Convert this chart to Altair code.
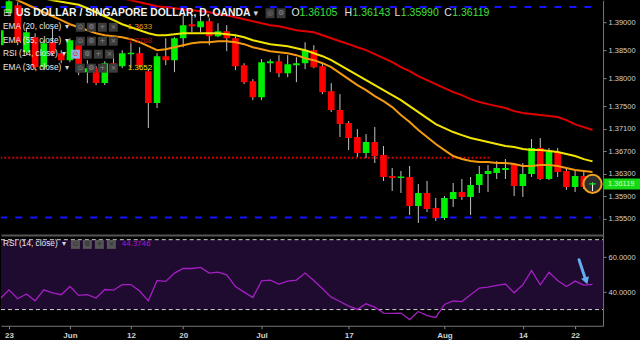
import altair as alt
import pandas as pd

# ---- data: daily USD/SGD candles, trading-day index 0..68 (22 May 2017 .. 24 Aug 2017) ----
opens = [1.38591, 1.39160, 1.39302, 1.38466, 1.38733, 1.38199, 1.38644, 1.38448, 1.38324, 1.38680,
         1.38110, 1.38181, 1.37915, 1.38270, 1.38217, 1.38431, 1.38448, 1.38128, 1.37559, 1.38395,
         1.38324, 1.38715, 1.38964, 1.38911, 1.39018, 1.38751, 1.38840, 1.38715, 1.38235, 1.37950,
         1.37665, 1.38270, 1.38306, 1.38093, 1.38235, 1.38270, 1.38502, 1.38217, 1.37772, 1.37434,
         1.37203, 1.36954, 1.36669, 1.36865, 1.36633, 1.36260, 1.36224, 1.36242, 1.35726, 1.35957,
         1.35690, 1.35512, 1.35851, 1.35975, 1.35886, 1.36100, 1.36295, 1.36313, 1.36367, 1.36473,
         1.36082, 1.36295, 1.36758, 1.36206, 1.36687, 1.36349, 1.36064, 1.36260, 1.36105]
highs = [1.38893, 1.39445, 1.39356, 1.38893, 1.38804, 1.38680, 1.38893, 1.38502, 1.38715, 1.38715,
         1.38324, 1.38217, 1.38306, 1.38448, 1.38502, 1.38626, 1.38555, 1.38164, 1.38448, 1.38715,
         1.38733, 1.39125, 1.39125, 1.39160, 1.39071, 1.38982, 1.38947, 1.38751, 1.38270, 1.37986,
         1.38342, 1.38342, 1.38413, 1.38413, 1.38377, 1.38644, 1.38591, 1.38253, 1.37915, 1.37719,
         1.37238, 1.37096, 1.37007, 1.37132, 1.36794, 1.36402, 1.36349, 1.36438, 1.36117, 1.36171,
         1.35868, 1.35904, 1.36135, 1.36206, 1.36242, 1.36438, 1.36456, 1.36527, 1.36562, 1.36491,
         1.36491, 1.36918, 1.36936, 1.36758, 1.36758, 1.36420, 1.36367, 1.36367, 1.36143]
lows = [1.38555, 1.39107, 1.38591, 1.38413, 1.38146, 1.38146, 1.38413, 1.38270, 1.38288, 1.38057,
        1.37915, 1.37879, 1.37879, 1.38146, 1.38181, 1.38181, 1.38199, 1.37114, 1.37470, 1.38235,
        1.38110, 1.38555, 1.38822, 1.38822, 1.38591, 1.38733, 1.38484, 1.38146, 1.37897, 1.37612,
        1.37612, 1.38110, 1.38021, 1.38021, 1.37932, 1.38164, 1.38181, 1.37719, 1.37399, 1.36954,
        1.36722, 1.36598, 1.36580, 1.36491, 1.36171, 1.35993, 1.35957, 1.35566, 1.35423, 1.35619,
        1.35459, 1.35477, 1.35708, 1.35833, 1.35566, 1.35957, 1.35975, 1.36206, 1.36206, 1.35904,
        1.35886, 1.36242, 1.36189, 1.36189, 1.36242, 1.36011, 1.35975, 1.36028, 1.35990]
closes = [1.38858, 1.39374, 1.38644, 1.38822, 1.38199, 1.38626, 1.38448, 1.38324, 1.38680, 1.38110,
          1.38181, 1.37915, 1.38270, 1.38217, 1.38448, 1.38457, 1.38235, 1.37559, 1.38395, 1.38324,
          1.38715, 1.38947, 1.38929, 1.39018, 1.38751, 1.38840, 1.38715, 1.38217, 1.37932, 1.37665,
          1.38288, 1.38306, 1.38093, 1.38253, 1.38270, 1.38502, 1.38199, 1.37754, 1.37434, 1.37185,
          1.36936, 1.36669, 1.36865, 1.36616, 1.36242, 1.36224, 1.36251, 1.35726, 1.35957, 1.35673,
          1.35512, 1.35868, 1.35975, 1.35886, 1.36100, 1.36295, 1.36349, 1.36402, 1.36402, 1.36082,
          1.36295, 1.36758, 1.36206, 1.36687, 1.36331, 1.36064, 1.36260, 1.36064, 1.36119]
ema20 = [1.39534, 1.39463, 1.39391, 1.39320, 1.39249, 1.39178, 1.39107, 1.39036, 1.38964, 1.38911,
         1.38858, 1.38804, 1.38769, 1.38751, 1.38733, 1.38698, 1.38644, 1.38573, 1.38502, 1.38520,
         1.38555, 1.38591, 1.38626, 1.38644, 1.38644, 1.38662, 1.38662, 1.38644, 1.38609, 1.38555,
         1.38520, 1.38484, 1.38466, 1.38448, 1.38413, 1.38359, 1.38324, 1.38270, 1.38199, 1.38093,
         1.37986, 1.37879, 1.37790, 1.37683, 1.37594, 1.37488, 1.37345, 1.37221, 1.37078, 1.36954,
         1.36829, 1.36722, 1.36616, 1.36562, 1.36527, 1.36509, 1.36509, 1.36491, 1.36491, 1.36473,
         1.36438, 1.36438, 1.36456, 1.36456, 1.36438, 1.36402, 1.36367, 1.36349, 1.36331]
ema30 = [1.39747, 1.39676, 1.39605, 1.39534, 1.39480, 1.39427, 1.39391, 1.39365, 1.39338, 1.39311,
         1.39249, 1.39178, 1.39107, 1.39036, 1.38964, 1.38911, 1.38858, 1.38804, 1.38769, 1.38769,
         1.38786, 1.38804, 1.38804, 1.38804, 1.38804, 1.38804, 1.38786, 1.38769, 1.38733, 1.38680,
         1.38644, 1.38609, 1.38591, 1.38573, 1.38537, 1.38502, 1.38448, 1.38395, 1.38324, 1.38235,
         1.38146, 1.38057, 1.37968, 1.37879, 1.37790, 1.37701, 1.37612, 1.37505, 1.37399, 1.37292,
         1.37185, 1.37114, 1.37043, 1.36989, 1.36936, 1.36900, 1.36865, 1.36829, 1.36794, 1.36776,
         1.36740, 1.36722, 1.36722, 1.36705, 1.36687, 1.36651, 1.36616, 1.36560, 1.36520]
ema55 = [1.40103, 1.40050, 1.39996, 1.39943, 1.39890, 1.39836, 1.39783, 1.39730, 1.39676, 1.39623,
         1.39569, 1.39534, 1.39498, 1.39463, 1.39427, 1.39391, 1.39356, 1.39320, 1.39285, 1.39267,
         1.39249, 1.39231, 1.39214, 1.39196, 1.39178, 1.39142, 1.39125, 1.39089, 1.39053, 1.39018,
         1.38982, 1.38947, 1.38929, 1.38893, 1.38858, 1.38840, 1.38822, 1.38769, 1.38715, 1.38662,
         1.38609, 1.38555, 1.38502, 1.38431, 1.38359, 1.38288, 1.38199, 1.38128, 1.38039, 1.37968,
         1.37897, 1.37826, 1.37754, 1.37701, 1.37630, 1.37577, 1.37541, 1.37505, 1.37470, 1.37416,
         1.37381, 1.37363, 1.37345, 1.37327, 1.37310, 1.37256, 1.37180, 1.37130, 1.37080]
rsi14 = [36.2, 41.3, 36.2, 38.9, 35.0, 41.3, 39.6, 38.5, 43.2, 38.1,
         38.6, 36.6, 41.5, 41.1, 44.3, 44.3, 40.6, 35.0, 46.6, 46.1,
         50.9, 53.5, 53.5, 54.1, 50.9, 51.4, 49.9, 43.2, 40.0, 36.9,
         46.5, 46.9, 44.6, 46.3, 46.9, 50.9, 46.6, 41.9, 37.1, 34.6,
         32.0, 30.1, 33.3, 31.4, 28.0, 27.8, 28.0, 24.3, 28.9, 26.5,
         25.5, 32.9, 34.9, 34.6, 38.5, 42.3, 42.9, 43.8, 44.6, 39.6,
         44.2, 52.4, 44.2, 51.4, 46.6, 43.2, 46.3, 44.0, 44.37]

date_tick_index = [1, 8, 15, 21, 30, 40, 51, 60, 66]
date_tick_label = ["23", "Jun", "12", "20", "Jul", "17", "Aug", "14", "22"]
price_ticks = [1.355, 1.359, 1.363, 1.367, 1.371, 1.375, 1.380, 1.385, 1.390]
rsi_ticks = [40, 60]
rsi_levels = [30, 70]
blue_levels = [1.39272, 1.35520]
blue_level_end = [68.2, 68.9]
red_level = [1.36585]
red_level_end = [56.4]
arrow_x = [66.45, 67.15]
arrow_y = [58.5, 48.0]

# ---- frames ----
n = len(closes)
candles = pd.DataFrame({"i": list(range(n)), "open": opens, "high": highs, "low": lows, "close": closes})
emas = pd.DataFrame({"i": list(range(n)), "ema20": ema20, "ema30": ema30, "ema55": ema55})
rsi_df = pd.DataFrame({"i": list(range(n)), "rsi": rsi14})
blue_df = pd.DataFrame({"lvl": blue_levels, "start": [0.0, 0.0], "end": blue_level_end})
red_df = pd.DataFrame({"lvl": red_level, "start": [0.0], "end": red_level_end})
last_df = candles.tail(1)
lev_df = pd.DataFrame({"lvl": rsi_levels})
band_df = pd.DataFrame({"lo": [min(rsi_levels)], "hi": [max(rsi_levels)]})
arrow_df = pd.DataFrame({"x": [arrow_x[0]], "x2": [arrow_x[1]], "y": [arrow_y[0]], "y2": [arrow_y[1]]})
arrow_tip = pd.DataFrame({"x": [arrow_x[1] + 0.12], "y": [arrow_y[1] - 1.6]})
one = pd.DataFrame({"k": [0]})

BG = "#000000"
UP = "#00ee00"
DOWN = "#ff0000"
WICK = "#c4c4c4"
FONT = "Liberation Sans"
W = 603
H_TOP = 235
H_RSI = 91

xscale = alt.Scale(domain=[0.083, 69.21], nice=False, zero=False)
yscale = alt.Scale(domain=[1.35210, 1.393915], nice=False, zero=False)
rscale = alt.Scale(domain=[20.74, 72.74], nice=False, zero=False)

top_xaxis = alt.Axis(labels=False, ticks=False, domain=True, domainColor="#555555", domainWidth=2,
                     grid=False, title=None)
yaxis = alt.Axis(orient="right", values=price_ticks, format=".5f", labelColor="#d0d0d0", labelFont=FONT,
                 labelFontSize=7.5, tickColor="#888888", tickSize=3, domainColor="#777777",
                 labelPadding=2, grid=False, title=None, labelOverlap=False)

lab_expr = "''"
for v, l in zip(reversed(date_tick_index), reversed(date_tick_label)):
    lab_expr = f"datum.value == {v} ? '{l}' : ({lab_expr})"
bot_xaxis = alt.Axis(values=date_tick_index, labelExpr=lab_expr, labelColor="#d0d0d0", labelFont=FONT,
                     labelFontSize=8, labelFontWeight="bold", tickColor="#888888", tickSize=3,
                     domainColor="#777777", labelPadding=3, grid=False, title=None,
                     labelFlush=False, labelOverlap=False)
raxis = alt.Axis(orient="right", values=rsi_ticks, format=".4f", labelColor="#d0d0d0", labelFont=FONT,
                 labelFontSize=7.5, tickColor="#888888", tickSize=3, domainColor="#777777",
                 labelPadding=2, grid=False, title=None, labelOverlap=False)


def X(f):
    return alt.X(f, type="quantitative", scale=xscale, axis=top_xaxis)


def Y(f):
    return alt.Y(f, type="quantitative", scale=yscale, axis=yaxis)


def label(s, x, y, color, size, weight="normal", font=FONT, align="left"):
    return alt.Chart(one).mark_text(text=s, align=align, baseline="middle", font=font, fontSize=size,
                                    fontWeight=weight, color=color).encode(x=alt.value(x), y=alt.value(y))


def box(x, y, w, h, fill):
    return alt.Chart(one).mark_rect(color=fill).encode(x=alt.value(x), x2=alt.value(x + w),
                                                       y=alt.value(y), y2=alt.value(y + h))


# ---- main price pane ----
blue = alt.Chart(blue_df).mark_rule(color="#1414ff", strokeWidth=2, strokeDash=[7, 8], clip=True).encode(
    x=X("start"), x2="end", y=Y("lvl"))
reddot = alt.Chart(red_df).mark_rule(color="#d00000", strokeWidth=2, strokeDash=[2, 2], clip=True).encode(
    x=X("start"), x2="end", y=Y("lvl"))

wicks = alt.Chart(candles).mark_rule(color=WICK, strokeWidth=1, clip=True).encode(
    x=X("i"), y=Y("low"), y2="high")
bodies = alt.Chart(candles).transform_calculate(
    xa="datum.i - 0.38", xb="datum.i + 0.38"
).mark_rect(clip=True).encode(
    x=X("xa"), x2="xb", y=Y("open"), y2="close",
    color=alt.condition("datum.close >= datum.open", alt.value(UP), alt.value(DOWN)))

l55 = alt.Chart(emas).mark_line(color="#e00000", strokeWidth=2, clip=True).encode(x=X("i"), y=Y("ema55"))
l30 = alt.Chart(emas).mark_line(color="#f2e600", strokeWidth=2, clip=True).encode(x=X("i"), y=Y("ema30"))
l20 = alt.Chart(emas).mark_line(color="#f39a10", strokeWidth=2, clip=True).encode(x=X("i"), y=Y("ema20"))

circle = alt.Chart(last_df).mark_point(shape="circle", size=330, filled=True, fill="#2e2e2e",
                                       stroke="#f0a020", strokeWidth=2, opacity=1).encode(
    x=X("i"), y=Y("close"))
last_wick = alt.Chart(last_df).mark_rule(color="#ffffff", strokeWidth=1).encode(x=X("i"), y=Y("low"), y2="high")
last_body = alt.Chart(last_df).transform_calculate(
    xa="datum.i - 0.38", xb="datum.i + 0.38", ya="datum.close + 0.00012", yb="datum.close - 0.00012"
).mark_rect(color=UP).encode(x=X("xa"), x2="xb", y=Y("ya"), y2="yb")

price_box = alt.Chart(last_df).transform_calculate(
    ya="datum.close + 0.00098", yb="datum.close - 0.00098"
).mark_rect(color="#16d916", clip=False).encode(
    x=alt.value(W + 1), x2=alt.value(640), y=Y("ya"), y2="yb")
price_txt = alt.Chart(last_df).mark_text(color="#c8ffc8", font=FONT, fontSize=7.5, align="left",
                                         baseline="middle", clip=False).encode(
    x=alt.value(W + 5), y=Y("close"), text=alt.Text("close:Q", format=".5f"))

legend_layers = [
    label("\u229f", 2, 13, "#d8d8d8", 10, font="DejaVu Sans"),
    label("US DOLLAR / SINGAPORE DOLLAR, D, OANDA", 15, 13, "#f2f2f2", 10.4, weight="bold"),
    label("\u25be", 253, 13, "#d8d8d8", 9, font="DejaVu Sans"),
    box(265, 8, 9, 10, "#3a3a3a"), label("\u25ce", 269.5, 13, "#888888", 7, font="DejaVu Sans", align="center"),
    box(276, 8, 9, 10, "#3a3a3a"), label("\u2699", 280.5, 13, "#888888", 7, font="DejaVu Sans", align="center"),
    label("O", 291, 13, "#e0e0e0", 10.5), label("1.36105", 299, 13, "#3ce13c", 10.5),
    label("H", 344, 13, "#e0e0e0", 10.5), label("1.36143", 352, 13, "#3ce13c", 10.5),
    label("L", 394, 13, "#e0e0e0", 10.5), label("1.35990", 400.5, 13, "#3ce13c", 10.5),
    label("C", 444, 13, "#e0e0e0", 10.5), label("1.36119", 452, 13, "#3ce13c", 10.5),
]
rows = [
    ("EMA (20, close)", 27, "1.3633", "#f39a10", [75, 86, 97, 108], False),
    ("EMA (55, close)", 41, "1.3708", "#c80000", [75, 86, 97, 108], False),
    ("RSI (14, close)", 54, "", "#000000", [70, 82, 93, 104], True),
    ("EMA (30, close)", 68, "1.3652", "#f2e600", [75, 86, 97, 108], False),
]
glyphs = ["\u2299", "\u2699", "+", "\u00d7"]
for name, yy, val, vcol, bxs, hl in rows:
    legend_layers.append(label(name, 2, yy, "#e8e8e8", 8.3))
    legend_layers.append(label("\u25be", 61 if hl else 64, yy, "#d8d8d8", 8, font="DejaVu Sans"))
    for k, bx in enumerate(bxs):
        fill = "#8ab4e8" if (hl and k == 0) else "#3c3c3c"
        gcol = "#e02020" if (hl and k == 0) else "#8a8a8a"
        legend_layers.append(box(bx, yy - 4.5, 9, 9, fill))
        legend_layers.append(label(glyphs[k], bx + 4.5, yy, gcol, 7, font="DejaVu Sans", align="center"))
    if val:
        legend_layers.append(label(val, 127, yy, vcol, 8))

top = alt.layer(blue, reddot, wicks, bodies, l55, l30, l20, circle, last_wick, last_body,
                price_box, price_txt, *legend_layers).properties(width=W, height=H_TOP)

# ---- RSI pane ----
def RX(f):
    return alt.X(f, type="quantitative", scale=xscale, axis=bot_xaxis)


def RY(f):
    return alt.Y(f, type="quantitative", scale=rscale, axis=raxis)


band = alt.Chart(band_df).mark_rect(color="#1f0a30").encode(
    x=alt.value(0), x2=alt.value(W), y=RY("lo"), y2="hi")
levels = alt.Chart(lev_df).mark_rule(color="#d0d0d0", strokeWidth=1, strokeDash=[4, 3]).encode(
    x=alt.value(0), x2=alt.value(W), y=RY("lvl"))
rsi_line = alt.Chart(rsi_df).mark_line(color="#a51fc4", strokeWidth=1.3, clip=True).encode(
    x=RX("i"), y=RY("rsi"))
arrow = alt.Chart(arrow_df).mark_rule(color="#62acf2", strokeWidth=3, strokeCap="round").encode(
    x=RX("x"), x2="x2", y=RY("y"), y2="y2")
arrow_head = alt.Chart(arrow_tip).mark_point(shape="triangle-down", filled=True, size=70, angle=341,
                                             color="#62acf2", opacity=1).encode(x=RX("x"), y=RY("y"))

rsi_legend = [label("RSI (14, close)", 2, 9.5, "#e8e8e8", 8.3),
              label("\u25be", 61, 9.5, "#d8d8d8", 8, font="DejaVu Sans")]
for k, bx in enumerate([70, 82, 94, 106]):
    rsi_legend.append(box(bx, 5, 9, 9, "#555555"))
    rsi_legend.append(label(glyphs[k], bx + 4.5, 9.5, "#2a2a2a", 7, font="DejaVu Sans", align="center"))
rsi_legend.append(label("44.3746", 121, 9.5, "#a51fc4", 8))

bottom = alt.layer(band, levels, rsi_line, arrow, arrow_head, *rsi_legend).properties(width=W, height=H_RSI)

chart = alt.vconcat(top, bottom, spacing=0).properties(
    padding=0, background=BG
).configure_view(stroke=None)

chart.save("out.html", embed_options={"renderer": "svg", "actions": False})
